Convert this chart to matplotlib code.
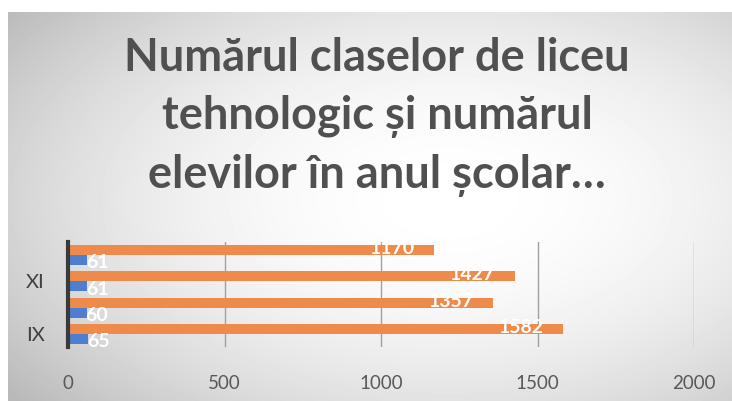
import matplotlib
matplotlib.use('Agg')
import matplotlib.pyplot as plt
import numpy as np

# data
categories = ['IX', 'X', 'XI', 'XII']
clase = [65, 60, 61, 61]
elevi = [1582, 1357, 1427, 1170]
xticks = [0, 500, 1000, 1500, 2000]
title = 'Numărul claselor de liceu\ntehnologic și numărul\nelevilor în anul școlar…'

W, H = 732, 401
plt.rcParams['font.family'] = ['Lato', 'DejaVu Sans']

fig = plt.figure(figsize=(W / 100, H / 100), dpi=100, facecolor='white')

# radial gray background (chart area starts a bit in from top/left)
bg = fig.add_axes([8 / W, 0, 1 - 8 / W, (H - 12) / H])
bg.set_axis_off()
yy, xx = np.mgrid[12:H, 8:W]
r2 = ((xx - 450) / 450.0) ** 2 + ((yy - 200) / 250.0) ** 2
val = np.clip(255 - 45 * r2, 185, 255) / 255.0
bg.imshow(val, cmap='gray', vmin=0, vmax=1, aspect='auto', interpolation='bilinear')

# plot area
x0, x1 = 68, 694
ytop, ybot = 242, 347
ax = fig.add_axes([x0 / W, (H - ybot) / H, (x1 - x0) / W, (ybot - ytop) / H])
ax.patch.set_alpha(0)

pos = np.arange(len(categories))
bh = 0.38
ax.barh(pos + bh / 2, elevi, height=bh, color='#EE8A4A', zorder=3)
ax.barh(pos - bh / 2, clase, height=bh, color='#4E7ECF', zorder=3)

for p, v in zip(pos, elevi):
    ax.annotate(str(v), (v, p + bh / 2), xytext=(-14, 1), textcoords='offset points',
                ha='right', va='center', color='white', fontsize=14, fontweight='bold', zorder=4)
for p, v in zip(pos, clase):
    ax.annotate(str(v), (v, p - bh / 2), xytext=(-1, -2), textcoords='offset points',
                ha='left', va='center', color='white', fontsize=14, fontweight='bold', zorder=4)

ax.set_xlim(0, 2000)
ax.set_ylim(-0.5, len(categories) - 0.5)
ax.set_xticks(xticks)
ax.set_xticklabels([str(t) for t in xticks])
ax.set_yticks(pos[::2])
ax.set_yticklabels(categories[::2])
ax.tick_params(axis='x', length=0, pad=20, labelsize=13.5, labelcolor='#595959')
ax.tick_params(axis='y', length=0, pad=17, labelsize=14.5, labelcolor='#404040')
ax.grid(axis='x', color='#a0a0a0', linewidth=1, zorder=0)
for s in ['top', 'right', 'bottom']:
    ax.spines[s].set_visible(False)
ax.spines['left'].set_color('#3a3a3a')
ax.spines['left'].set_linewidth(3)
ax.spines['left'].set_zorder(5)

fig.text(377 / W, 1 - 37 / H, title, ha='center', va='top', fontsize=32.5,
         fontweight='bold', color='#505050', linespacing=1.47)

fig.savefig('out.png', dpi=100)
